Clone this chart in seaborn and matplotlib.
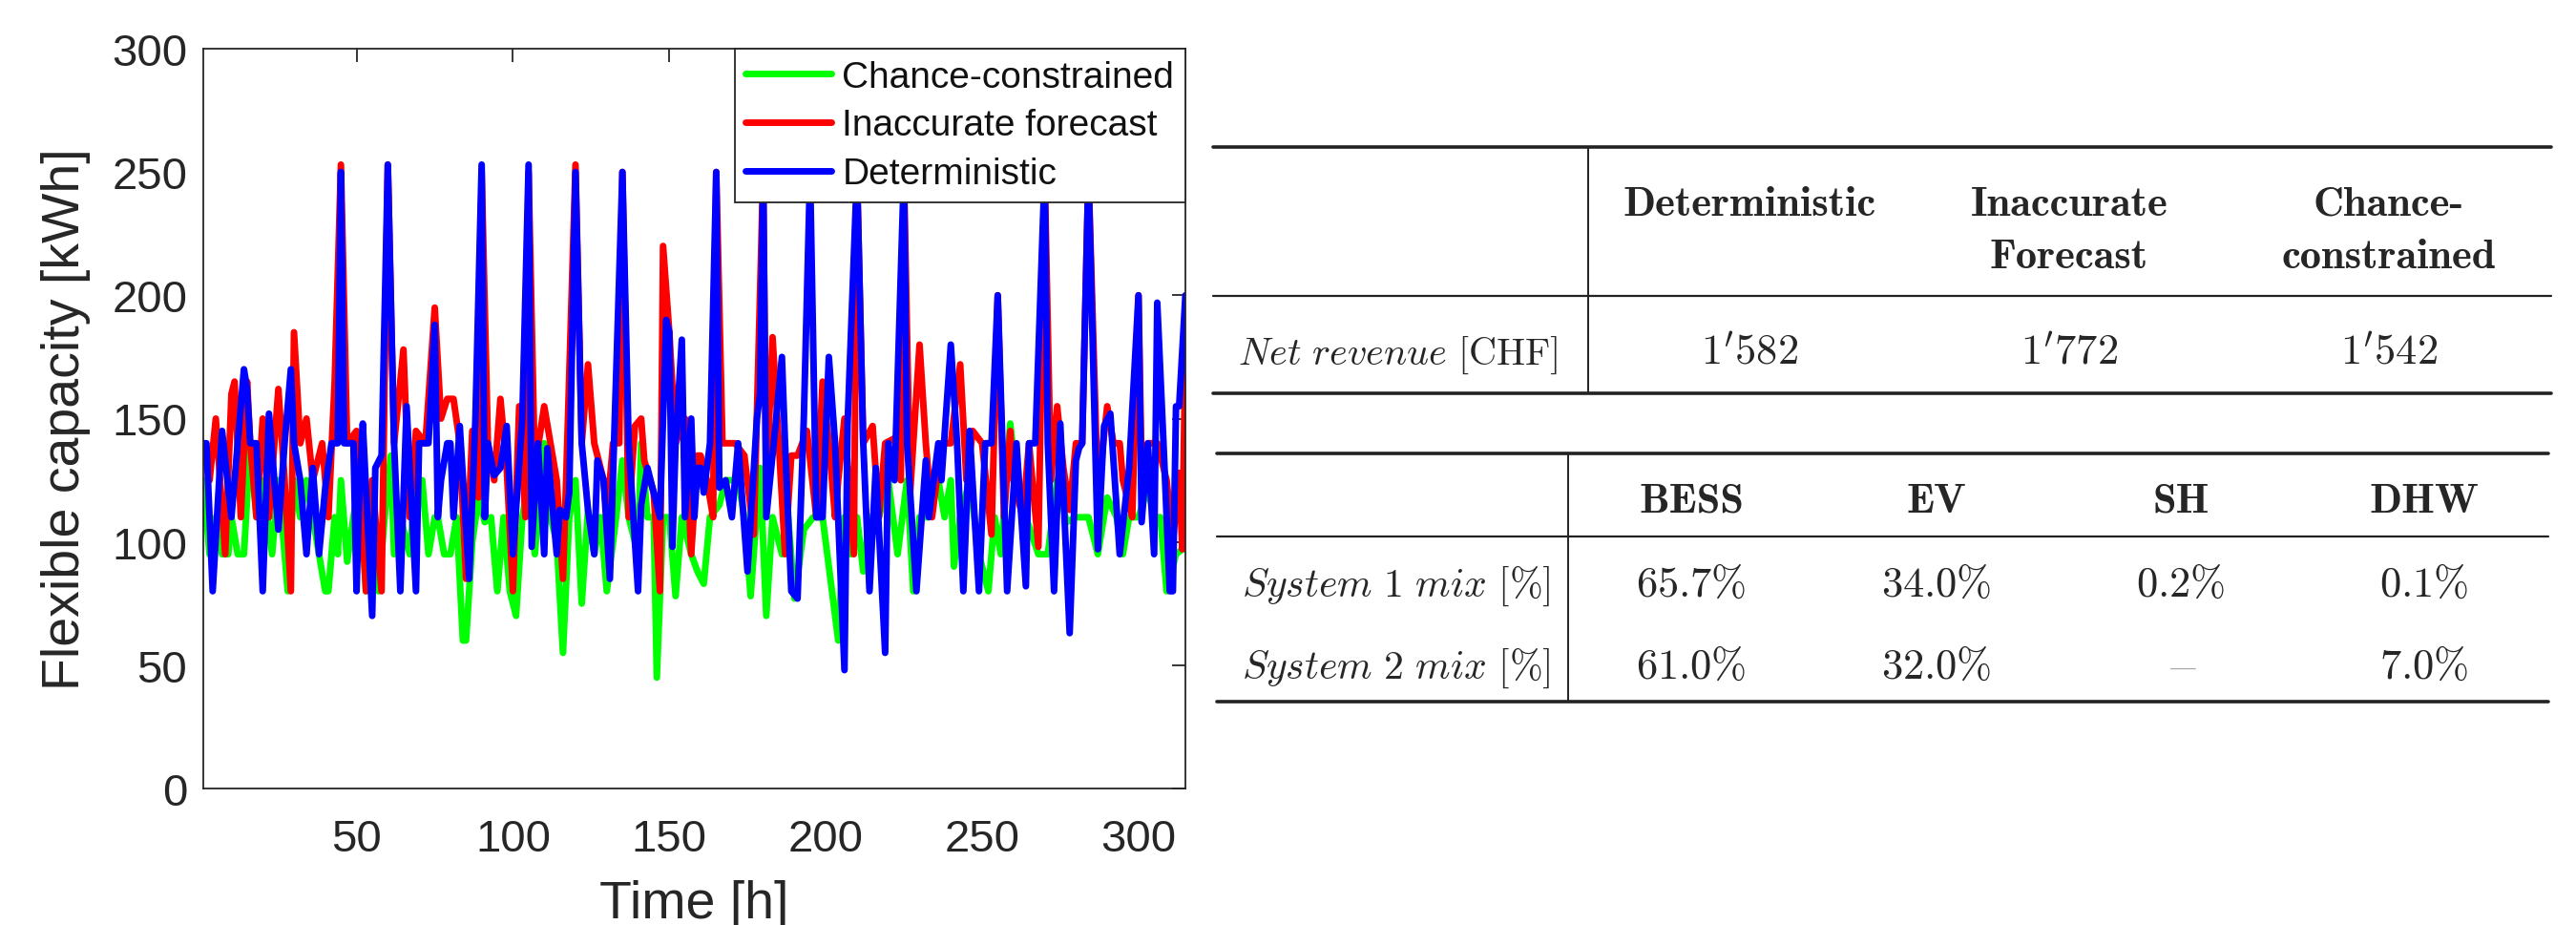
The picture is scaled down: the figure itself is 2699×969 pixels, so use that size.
import matplotlib
matplotlib.use('Agg')
import matplotlib.pyplot as plt
import seaborn as sns
import pandas as pd
from matplotlib.lines import Line2D

sns.set_style('white')
plt.rcParams['font.family'] = ['Liberation Sans', 'DejaVu Sans']
plt.rcParams['mathtext.fontset'] = 'cm'

# (hour, flexible capacity in kWh)
green_pts = [(1,125),(3,95),(5,110),(7,95),(9,95),(10,110),(12,95),(14,95),(16,140),(18,110),(20,125),(23,95),(25,125),(28,80),(30,125),(32,110),(34,125),(36,110),(38,95),(40,80),(41,80),(43,110),(44,95),(45,125),(47,92),(49,110),(51,125),(53,80),(55,110),(57,80),(59,110),(61,135),(62,95),(64,110),(67,95),(69,125),(71,125),(73,95),(75,110),(76,110),(78,95),(80,95),(82,110),(84,60),(85,60),(87,100),(89,118),(91,108),(93,110),(95,80),(97,110),(99,80),(101,70),(103,110),(105,125),(107,95),(110,140),(112,110),(114,100),(116,55),(118,110),(120,125),(122,75),(124,113),(126,95),(128,110),(130,80),(133,110),(135,133),(137,110),(140,95),(141,140),(143,110),(145,110),(146,45),(148,110),(150,110),(152,78),(154,110),(157,95),(159,88),(161,83),(163,110),(166,115),(168,125),(170,125),(172,125),(174,110),(176,78),(179,130),(181,70),(183,110),(186,95),(188,110),(190,77),(193,105),(196,110),(199,110),(202,80),(204,60),(206,110),(208,95),(210,110),(212,88),(214,110),(217,110),(220,125),(223,95),(226,125),(228,80),(230,110),(233,110),(236,125),(238,110),(240,125),(241,90),(243,110),(246,125),(249,95),(252,80),(254,110),(256,95),(259,148),(261,125),(264,110),(268,95),(271,95),(274,125),(277,108),(280,110),(282,110),(284,110),(287,95),(290,118),(293,110),(295,95),(297,110),(300,110),(303,122),(305,110),(307,110),(309,80),(312,95),(314,97),(315,97)]

red_pts = [(1,140),(3,125),(5,150),(8,95),(10,160),(11,165),(13,110),(15,165),(16,140),(18,110),(20,150),(22,110),(25,162),(27,125),(29,80),(30,185),(32,140),(34,150),(36,125),(39,140),(41,110),(43,165),(45,253),(47,140),(50,145),(53,80),(55,125),(58,80),(60,253),(62,140),(65,178),(67,110),(69,145),(72,140),(75,195),(77,150),(79,158),(81,158),(83,140),(85,85),(87,145),(89,118),(90,250),(92,140),(94,125),(96,158),(98,130),(100,80),(102,155),(104,110),(105,250),(107,130),(110,155),(112,140),(114,125),(116,85),(117,125),(120,253),(122,140),(124,172),(126,140),(129,125),(130,110),(132,140),(134,140),(135,250),(137,110),(139,147),(141,150),(142,133),(145,120),(147,80),(148,220),(150,185),(152,140),(155,150),(157,95),(159,135),(160,135),(162,125),(164,110),(165,250),(167,140),(169,140),(171,140),(174,135),(177,103),(180,250),(181,120),(183,183),(185,140),(187,95),(189,135),(191,135),(194,145),(197,110),(199,165),(201,140),(203,110),(204,125),(206,150),(209,95),(210,250),(212,140),(215,147),(217,110),(219,140),(222,142),(224,125),(225,250),(227,120),(230,180),(232,140),(234,110),(237,140),(240,140),(243,172),(245,125),(247,145),(250,140),(253,103),(255,200),(257,110),(259,145),(260,125),(263,110),(265,140),(268,98),(270,250),(272,125),(274,155),(276,130),(278,113),(280,140),(282,140),(284,250),(287,120),(290,155),(292,140),(294,140),(295,125),(298,110),(300,200),(301,130),(303,140),(306,140),(309,125),(311,100),(313,128),(314,97),(315,180)]

blue_pts = [(1,140),(2,140),(4,80),(7,145),(10,110),(12,140),(14,170),(15,162),(16,140),(18,140),(20,80),(22,152),(25,105),(27,140),(29,170),(30,140),(32,125),(34,95),(36,130),(38,95),(40,122),(42,140),(44,140),(45,250),(46,140),(49,140),(50,80),(51,125),(52,148),(55,70),(56,130),(58,135),(60,253),(62,140),(64,80),(66,155),(69,80),(70,140),(73,140),(75,188),(76,110),(77,125),(79,140),(80,140),(81,110),(83,147),(86,85),(88,150),(90,253),(91,110),(92,140),(94,127),(96,130),(98,147),(100,95),(103,150),(105,253),(106,98),(108,140),(110,95),(111,138),(114,95),(115,113),(117,110),(118,120),(120,250),(122,140),(124,113),(126,95),(127,133),(129,125),(131,85),(132,127),(135,250),(137,140),(140,80),(141,115),(143,130),(147,110),(149,190),(150,185),(151,98),(152,140),(154,182),(155,110),(157,150),(158,110),(159,130),(160,130),(161,120),(163,140),(165,250),(166,122),(168,125),(170,110),(172,140),(175,88),(178,150),(179,160),(180,250),(181,110),(184,148),(186,175),(187,140),(189,80),(191,77),(193,150),(195,250),(197,110),(199,110),(201,175),(203,140),(206,48),(207,148),(210,250),(212,140),(214,80),(216,130),(219,55),(220,140),(222,125),(225,250),(226,140),(229,80),(232,133),(233,110),(236,140),(237,125),(240,180),(242,140),(244,80),(246,145),(249,80),(251,140),(253,140),(255,200),(258,80),(261,140),(264,82),(265,140),(267,140),(270,250),(271,140),(273,80),(275,148),(278,63),(280,133),(281,138),(282,140),(284,250),(287,97),(289,147),(291,152),(294,95),(297,130),(300,200),(301,108),(303,140),(305,95),(306,197),(308,140),(310,80),(311,80),(312,155),(313,155),(315,200)]

series_names = ['Chance-constrained', 'Inaccurate forecast', 'Deterministic']
series_colors = ['#00ff00', '#ff0000', '#0000ff']

# table contents
hdr1 = [['Deterministic'], ['Inaccurate', 'Forecast'], ['Chance-', 'constrained']]
revenue = ["1'582", "1'772", "1'542"]
hdr2 = ['BESS', 'EV', 'SH', 'DHW']
mix1 = ['65.7%', '34.0%', '0.2%', '0.1%']
mix2 = ['61.0%', '32.0%', None, '7.0%']

rows = []
for name, pts in zip(series_names, [green_pts, red_pts, blue_pts]):
    for h, v in pts:
        rows.append((h, v, name))
df = pd.DataFrame(rows, columns=['Time [h]', 'Flexible capacity [kWh]', 'series'])

W, H = 2699, 970
fig = plt.figure(figsize=(W / 100, H / 100), dpi=100)
ax = fig.add_axes([213 / W, 1 - 827 / H, 1029 / W, 775 / H])

sns.lineplot(data=df, x='Time [h]', y='Flexible capacity [kWh]', hue='series',
             hue_order=series_names, palette=series_colors, linewidth=5,
             estimator=None, ax=ax)

dark = '#262626'
ax.set_xlim(1, 315)
ax.set_ylim(0, 300)
ax.set_xticks([50, 100, 150, 200, 250, 300])
ax.set_yticks(range(0, 301, 50))
ax.tick_params(direction='in', length=10, width=1.3, colors=dark, labelsize=34,
               top=True, right=True)
ax.tick_params(axis='x', pad=22)
ax.tick_params(axis='y', pad=12)
for s in ax.spines.values():
    s.set_color(dark)
    s.set_linewidth(1.3)
ax.set_xlabel('Time [h]', fontsize=40, color=dark)
ax.set_ylabel('Flexible capacity [kWh]', fontsize=40, color=dark)
ax.xaxis.set_label_coords(0.5, -0.122)
ax.yaxis.set_label_coords(-0.115, 0.5)

leg = ax.legend(loc='upper right', bbox_to_anchor=(1, 1), borderaxespad=0,
                fontsize=28, frameon=True, fancybox=False, framealpha=1,
                handlelength=2.3, handletextpad=0.3, labelspacing=0.38,
                borderpad=0.3)
leg.get_frame().set_edgecolor(dark)
leg.get_frame().set_linewidth(1.3)
for t in leg.get_texts():
    t.set_color('#111111')
for ln in leg.get_lines():
    ln.set_linewidth(5)

# right side: the two result tables, laid out in pixel units
tab = fig.add_axes([0, 0, 1, 1])
tab.set_xlim(0, W)
tab.set_ylim(H, 0)
tab.axis('off')
rule = '#222222'
fs = 32

def hline(y, x0, x1, lw):
    tab.add_line(Line2D([x0, x1], [y, y], color=rule, lw=lw))

def vline(x, y0, y1):
    tab.add_line(Line2D([x, x], [y0, y1], color=rule, lw=1.4))

# table 1
hline(155, 1271, 2673, 2.6)
hline(311, 1271, 2673, 1.6)
hline(413, 1271, 2673, 2.6)
vline(1664, 155, 413)
cols1 = [1833, 2168, 2503]
for cx, lines in zip(cols1, hdr1):
    for k, txt in enumerate(lines):
        tab.text(cx, 226 + 55 * k, txt, family='cmb10', ha='center',
                 va='baseline', fontsize=fs)
tab.text(1297, 382, r'$\mathit{Net\ revenue}\ \mathrm{[CHF]}$', ha='left',
         va='baseline', fontsize=29)
for cx, v in zip(cols1, revenue):
    tab.text(cx, 382, '$%s$' % v, ha='center', va='baseline', fontsize=fs)

# table 2
hline(476, 1275, 2670, 2.6)
hline(563, 1275, 2670, 1.6)
hline(736, 1275, 2670, 2.6)
vline(1643, 476, 736)
cols2 = [1772, 2029, 2285, 2540]
for cx, txt in zip(cols2, hdr2):
    tab.text(cx, 537, txt, family='cmb10', ha='center', va='baseline',
             fontsize=fs)
for y, label, vals in [(625, '1', mix1), (711, '2', mix2)]:
    tab.text(1301, y, r'$\mathit{System\ %s\ mix}\ \mathrm{[\%%]}$' % label,
             ha='left', va='baseline', fontsize=30)
    for cx, v in zip(cols2, vals):
        if v is None:
            tab.text(cx, y, r'$-$', ha='center', va='baseline', fontsize=fs,
                     color='#aaaaaa')
        else:
            tab.text(cx, y, r'$\mathrm{%s}$' % v.replace('%', r'\%'),
                     ha='center', va='baseline', fontsize=fs)

fig.savefig('out.png', dpi=100)
